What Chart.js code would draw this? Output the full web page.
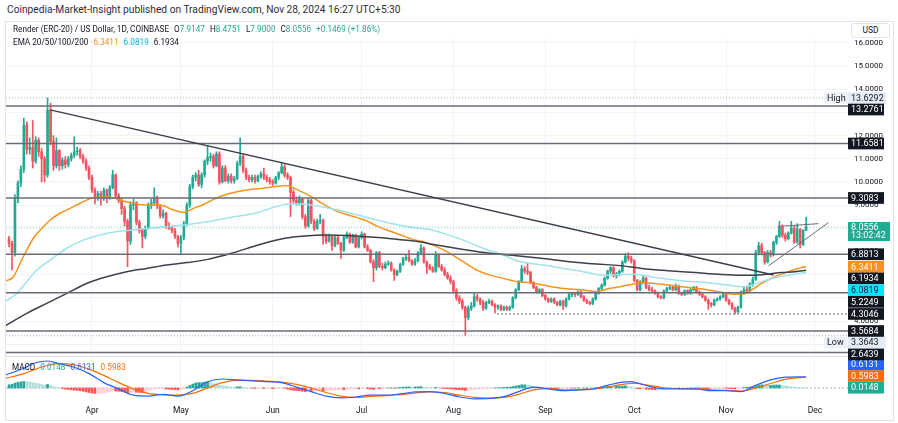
<!DOCTYPE html>
<html>
<head>
<meta charset="utf-8">
<script src="https://cdn.jsdelivr.net/npm/chart.js@4.4.1/dist/chart.umd.min.js"></script>
<style>
  html,body{margin:0;padding:0;background:#fff;}
  body{width:898px;height:423px;position:relative;overflow:hidden;font-family:Roboto,"Liberation Sans",sans-serif;color:#131722;}
  #frame{position:absolute;left:5px;top:21px;width:889px;height:400px;border:1px solid #e0e3eb;box-sizing:border-box;}
  #sep{position:absolute;left:5px;top:356px;width:843px;height:1px;background:#e0e3eb;}
  canvas{position:absolute;left:0;}
  #cm{top:356px;}
  #cp{top:38px;}
  .txt{position:absolute;white-space:nowrap;font-size:8.2px;line-height:10px;color:#131722;}
  #hdr{left:7px;top:4px;font-size:10.2px;line-height:12px;color:#2a2e39;}
  #lg1{left:13px;top:24px;}
  #lg2{left:13px;top:37px;}
  #lgm{left:12px;top:362px;}
  #usd{position:absolute;left:851px;top:23px;width:39px;height:15px;border:1px solid #e0e3eb;border-radius:3px;font-size:8.5px;line-height:13px;text-align:center;box-sizing:border-box;background:#fff;color:#131722;}
  .g{color:#22ab94}.o{color:#f7931a}.c{color:#00bcd4}.b{color:#2962ff}.m{color:#ff6d00}
  .sp{margin-left:5px}
</style>
</head>
<body>
<div id="frame"></div>
<div id="sep"></div>
<canvas id="cm" width="898" height="67"></canvas>
<canvas id="cp" width="898" height="330"></canvas>
<div id="hdr" class="txt">Coinpedia-Market-Insight published on TradingView.com, Nov 28, 2024 16:27 UTC+5:30</div>
<div id="lg1" class="txt"></div>
<div id="lg2" class="txt"></div>
<div id="lgm" class="txt"></div>
<div id="usd">USD</div>
<script>
// ---------- DATA ----------
// day numbers count from 2024-03-01 (= day 0); first candle is 2024-03-04
const FIRST_DAY = 3;
const symbolTitle = 'Render (ERC-20) / US Dollar, 1D, COINBASE';
const monthStartDays = [31, 61, 92, 122, 153, 184, 214, 245, 275];
const monthLabels = ['Apr', 'May', 'Jun', 'Jul', 'Aug', 'Sep', 'Oct', 'Nov', 'Dec'];
const priceTicks = [3, 4, 5, 6, 7, 8, 9, 10, 11, 12, 13, 14, 15, 16];

const opens = [
  7.55,7.35,6.95,9.30,9.95,10.55,12.45,11.40,11.50,10.90,
  11.80,11.30,11.00,10.30,13.10,11.75,10.70,11.35,10.70,10.95,
  10.75,11.00,11.15,11.30,11.35,11.10,10.90,10.60,10.20,9.65,
  9.30,9.50,9.30,9.65,9.30,9.75,10.30,9.40,9.20,8.85,
  8.30,7.45,9.00,9.10,8.25,7.90,7.65,8.00,9.00,9.10,
  9.30,8.95,8.55,8.65,8.10,8.00,7.90,7.65,7.35,7.60,
  8.20,9.00,9.80,10.20,10.30,9.90,10.30,10.90,11.05,11.10,
  10.70,11.20,10.00,10.60,10.05,10.25,10.05,10.15,10.80,11.10,
  10.50,10.20,10.10,10.20,10.05,10.25,10.35,10.20,10.10,10.00,
  9.95,10.20,10.40,10.65,10.30,10.20,9.55,9.20,9.10,9.25,
  8.50,8.10,9.20,8.30,8.00,8.30,8.35,7.65,7.45,7.65,
  7.25,7.60,7.35,7.05,7.60,7.75,7.40,7.70,7.20,7.60,
  7.75,7.20,7.05,6.55,6.30,6.95,6.35,6.30,6.45,6.50,
  6.20,6.00,6.15,6.45,6.70,6.75,6.60,6.45,6.60,6.95,
  7.15,6.55,6.35,6.25,6.15,6.85,6.35,6.20,6.00,5.85,
  5.70,5.30,5.00,4.85,4.60,4.15,4.55,4.65,5.05,4.95,
  4.80,4.55,4.80,4.85,4.70,4.60,4.65,4.50,4.60,4.50,
  4.60,5.00,5.35,5.70,6.25,6.15,6.10,5.65,5.45,5.25,
  5.35,5.10,4.95,4.85,4.95,4.80,4.70,4.85,4.65,4.95,
  5.15,5.20,5.15,5.25,5.05,4.90,4.80,4.75,4.95,5.20,
  5.40,5.55,5.85,6.15,6.30,5.95,6.05,6.15,6.55,6.80,
  6.70,6.60,5.75,5.35,5.70,5.85,5.45,5.35,5.30,5.20,
  5.05,5.00,5.30,5.40,5.45,5.35,5.50,5.20,5.15,5.30,
  5.20,5.35,5.45,5.25,5.15,5.05,4.90,4.75,4.70,4.90,
  4.95,5.05,5.15,4.90,4.75,4.55,4.40,4.60,5.25,5.35,
  5.30,5.60,5.80,6.95,7.25,6.95,6.55,6.95,6.85,7.40,
  7.65,8.05,7.70,7.55,7.80,8.00,7.40,7.95,7.30,7.9147
];
const highs = [
  7.65,7.45,9.45,10.05,10.70,12.75,12.60,11.90,12.65,11.95,
  11.90,11.45,11.10,13.6292,13.40,12.00,11.90,11.40,11.05,11.10,
  11.10,11.25,11.95,11.50,11.45,11.20,11.00,10.70,10.30,9.75,
  9.60,9.60,9.75,9.70,9.85,10.50,10.35,9.50,9.30,8.95,
  8.40,9.15,9.25,9.15,8.35,8.00,8.10,9.10,9.25,9.75,
  9.40,9.00,8.80,8.70,8.25,8.10,8.00,7.70,7.70,8.30,
  9.10,9.90,10.30,10.40,10.50,10.40,10.95,11.55,11.25,11.20,
  11.30,11.30,10.70,10.70,10.35,10.35,10.25,10.90,11.90,11.20,
  10.60,10.30,10.30,10.30,10.30,10.45,10.60,10.30,10.20,10.10,
  10.25,10.45,10.85,10.75,10.40,10.25,9.65,9.35,9.40,9.30,
  8.60,9.30,9.25,8.40,8.40,8.60,8.40,7.75,7.75,7.70,
  7.65,7.70,7.40,7.65,7.85,7.80,7.75,7.75,7.65,7.85,
  7.80,7.30,7.10,6.65,7.00,7.00,6.50,6.55,6.60,6.55,
  6.25,6.20,6.50,6.75,6.85,7.05,6.65,6.70,7.00,7.30,
  7.20,6.60,6.45,6.35,7.00,6.90,6.45,6.30,6.10,5.95,
  5.75,5.40,5.10,4.95,4.65,4.65,4.80,5.20,5.15,5.00,
  4.90,4.85,4.95,4.90,4.75,4.70,4.70,4.65,4.65,4.65,
  5.05,5.40,5.75,6.40,6.35,6.50,6.15,5.70,5.50,5.40,
  5.40,5.15,5.00,5.00,5.00,4.85,4.90,4.90,5.00,5.20,
  5.25,5.25,5.30,5.30,5.10,4.95,4.85,5.00,5.25,5.45,
  5.60,5.90,6.20,6.35,6.35,6.10,6.20,6.60,6.90,6.95,
  6.80,6.65,5.80,5.75,5.95,5.90,5.55,5.45,5.35,5.25,
  5.10,5.35,5.45,5.55,5.50,5.60,5.55,5.25,5.35,5.35,
  5.40,5.50,5.50,5.30,5.20,5.10,4.95,4.80,4.95,5.00,
  5.10,5.20,5.20,4.95,4.80,4.60,4.65,5.30,5.45,5.45,
  5.65,5.90,7.05,7.40,7.35,7.00,7.05,7.05,7.45,7.70,
  8.30,8.15,7.80,7.85,8.30,8.10,8.20,8.00,7.95,8.4751
];
const lows = [
  7.20,6.20,6.80,9.10,9.80,10.40,11.20,11.20,10.60,10.80,
  11.10,10.00,10.00,10.20,11.60,10.50,10.60,10.50,10.55,10.60,
  10.65,10.90,11.05,11.15,11.00,10.80,10.50,10.10,9.55,9.05,
  9.20,9.00,9.20,9.10,9.25,9.70,9.30,9.10,8.60,8.10,
  6.35,7.30,8.80,8.15,7.80,7.15,7.55,7.95,8.85,9.00,
  8.85,8.45,8.45,8.00,7.95,7.80,7.55,7.20,6.92,7.50,
  8.10,8.90,9.70,10.05,9.80,9.75,10.20,10.75,10.90,10.60,
  10.65,9.90,9.95,10.00,9.95,9.95,9.95,10.10,10.70,10.40,
  10.10,10.00,10.00,9.95,10.00,10.15,10.10,10.00,9.90,9.85,
  9.90,10.10,10.35,10.20,10.10,8.50,9.10,9.00,9.00,8.40,
  8.00,8.05,8.20,7.90,7.95,8.20,7.30,7.35,7.40,7.05,
  7.20,7.30,6.70,7.00,7.55,7.35,7.35,7.15,7.15,7.55,
  7.15,7.00,6.50,5.70,6.20,6.30,6.20,6.25,6.40,6.15,
  5.75,5.95,6.10,6.40,6.60,6.55,6.40,6.40,6.55,6.90,
  6.50,6.05,6.20,6.10,6.10,6.30,6.15,5.95,5.80,5.60,
  5.20,4.90,4.75,4.50,3.3643,4.05,4.45,4.60,4.85,4.70,
  4.45,4.50,4.75,4.65,4.35,4.50,4.45,4.45,4.45,4.45,
  4.55,4.95,5.30,5.65,6.05,6.00,5.60,5.40,5.20,5.20,
  5.05,4.90,4.80,4.80,4.75,4.65,4.65,4.50,4.60,4.90,
  5.05,5.05,5.10,5.00,4.85,4.75,4.70,4.70,4.90,5.15,
  5.35,5.50,5.80,6.05,5.90,5.85,5.95,6.10,6.50,6.60,
  6.50,5.70,5.30,5.30,5.60,5.40,5.30,5.25,5.15,5.00,
  4.95,4.95,5.25,5.35,5.30,5.30,5.15,5.10,5.10,5.15,
  5.15,5.30,5.20,5.10,5.00,4.85,4.50,4.60,4.65,4.85,
  4.90,5.00,4.85,4.70,4.50,4.3046,4.35,4.55,5.15,5.20,
  5.25,5.50,5.75,6.85,6.85,6.45,6.50,6.75,6.80,7.30,
  7.60,7.60,7.45,7.50,7.75,7.35,7.35,7.15,7.25,7.90
];
const closes = [
  7.35,6.95,9.30,9.95,10.55,12.45,11.40,11.50,10.90,11.80,
  11.30,11.00,10.30,13.10,11.75,10.70,11.35,10.70,10.95,10.75,
  11.00,11.15,11.30,11.35,11.10,10.90,10.60,10.20,9.65,9.30,
  9.50,9.30,9.65,9.30,9.75,10.30,9.40,9.20,8.85,8.30,
  7.45,9.00,9.10,8.25,7.90,7.65,8.00,9.00,9.10,9.30,
  8.95,8.55,8.65,8.10,8.00,7.90,7.65,7.35,7.60,8.20,
  9.00,9.80,10.20,10.30,9.90,10.30,10.90,11.05,11.10,10.70,
  11.20,10.00,10.60,10.05,10.25,10.05,10.15,10.80,11.10,10.50,
  10.20,10.10,10.20,10.05,10.25,10.35,10.20,10.10,10.00,9.95,
  10.20,10.40,10.65,10.30,10.20,9.55,9.20,9.10,9.25,8.50,
  8.10,9.20,8.30,8.00,8.30,8.35,7.65,7.45,7.65,7.25,
  7.60,7.35,7.05,7.60,7.75,7.40,7.70,7.20,7.60,7.75,
  7.20,7.05,6.55,6.30,6.95,6.35,6.30,6.45,6.50,6.20,
  6.00,6.15,6.45,6.70,6.75,6.60,6.45,6.60,6.95,7.15,
  6.55,6.35,6.25,6.15,6.85,6.35,6.20,6.00,5.85,5.70,
  5.30,5.00,4.85,4.60,4.15,4.55,4.65,5.05,4.95,4.80,
  4.55,4.80,4.85,4.70,4.60,4.65,4.50,4.60,4.50,4.60,
  5.00,5.35,5.70,6.25,6.15,6.10,5.65,5.45,5.25,5.35,
  5.10,4.95,4.85,4.95,4.80,4.70,4.85,4.65,4.95,5.15,
  5.20,5.15,5.25,5.05,4.90,4.80,4.75,4.95,5.20,5.40,
  5.55,5.85,6.15,6.30,5.95,6.05,6.15,6.55,6.80,6.70,
  6.60,5.75,5.35,5.70,5.85,5.45,5.35,5.30,5.20,5.05,
  5.00,5.30,5.40,5.45,5.35,5.50,5.20,5.15,5.30,5.20,
  5.35,5.45,5.25,5.15,5.05,4.90,4.75,4.70,4.90,4.95,
  5.05,5.15,4.90,4.75,4.55,4.40,4.60,5.25,5.35,5.30,
  5.60,5.80,6.95,7.25,6.95,6.55,6.95,6.85,7.40,7.65,
  8.05,7.70,7.55,7.80,8.00,7.40,7.95,7.30,7.9087,8.0556
];

// horizontal levels and drawings
const levelPrices = [13.2761, 11.6581, 9.3083, 6.8813, 5.2249, 3.5684, 2.6439];
const highPrice = 13.6292;
const lowPrice = 3.3643;
const supportPrice = 4.3046;
const supportFromDay = 167.7;
const countdownText = '13:02:42';
const trendDays = [16.9, 261.0];
const trendPrices = [13.11, 5.99];
const wedgeUpperDays = [262.5, 276.2];
const wedgeUpperPrices = [8.08, 8.20];
const wedgeLowerDays = [259.3, 279.5];
const wedgeLowerPrices = [6.38, 8.24];

// EMA lines
const emaOrangeDays = [1.5,4.5,6.7,9,11.2,14.6,16.9,20.2,23.6,27,30.4,33.7,37.1,40.5,45,49.5,54,58.5,61.9,65.2,69,72,76,80,85,89,93,96.5,100,105,109.6,114,118.6,123,127.6,132,136.6,140,142.8,147.3,151.8,156.3,160.8,165.3,169.8,174.3,178.8,183.3,187.8,192.3,196.8,201.3,205.8,209.2,212,216.5,221,225.5,230,234.5,239,243.5,248,251.4,253.6,257,261.5,266,270.5,272];
const emaOrangeValues = [5.72,5.91,6.49,7.06,7.57,8.07,8.36,8.65,8.86,9.08,9.28,9.34,9.34,9.22,9.08,9.00,9.00,8.79,8.68,8.86,9.05,9.25,9.45,9.58,9.68,9.73,9.80,9.85,9.68,9.37,9.00,8.72,8.53,8.36,8.07,7.86,7.64,7.50,7.42,7.21,6.92,6.56,6.20,5.98,5.84,5.70,5.65,5.55,5.45,5.38,5.34,5.27,5.41,5.48,5.55,5.65,5.62,5.55,5.48,5.41,5.34,5.24,5.16,5.19,5.34,5.62,5.91,6.13,6.31,6.3411];
const emaCyanDays = [1.5,5.6,9,12.4,16.9,22.5,28.1,33.7,39.4,45,50.6,56.2,61.9,67.5,72,79,86,91,95,98,102,105,114,123,132,140,145,149.6,156.3,163,169.8,174.3,178.8,183.3,190,196.8,201.3,205.8,209.2,214.2,221,230,239,245.7,250.2,252.5,257,261.5,266,270.5,272];
const emaCyanValues = [4.82,5.19,5.70,6.20,6.63,7.14,7.49,7.71,7.86,7.93,8.00,8.07,8.14,8.24,8.33,8.50,8.65,8.85,9.00,9.06,9.05,9.00,8.79,8.50,8.21,8.02,7.95,7.78,7.49,7.14,6.85,6.60,6.49,6.42,6.27,6.13,6.01,5.98,6.01,6.02,5.88,5.74,5.65,5.55,5.48,5.51,5.70,5.87,5.98,6.07,6.0819];
const emaBlackDays = [1.5,9,15.7,22.5,29.2,36,42.7,49.5,56.2,63,70,78.1,87.1,96.1,102.9,109.6,118.6,127.6,134.4,140,147.3,156.3,165.3,174.3,183.3,192.3,201.3,209.2,216.5,225.5,234.5,243.5,250.2,254.7,259.2,263.7,268.2,272];
const emaBlackValues = [3.78,4.33,4.76,5.19,5.62,5.91,6.13,6.27,6.42,6.52,6.66,6.92,7.28,7.57,7.67,7.71,7.68,7.60,7.52,7.45,7.28,7.09,6.92,6.82,6.70,6.56,6.46,6.39,6.27,6.17,6.09,6.01,5.98,5.98,6.03,6.09,6.13,6.1934];
const emaLastValues = [6.3411, 6.0819, 6.1934];

// MACD
const macdDays = [1.5,8,12,16,20,25,30,35,40,45,50,55,60,65,70,75,80,85,90,95,100,105,110,115,120,125,130,135,140,145,150,155,160,165,170,175,180,185,190,195,200,205,210,213,215,220,225,230,235,240,245,250,255,260,265,270,272];
const macdValues = [0.70,1.10,1.40,1.50,1.35,1.15,0.80,0.30,-0.05,-0.40,-0.45,-0.35,-0.45,-0.15,0.35,0.50,0.45,0.40,0.35,0.30,0.05,-0.20,-0.45,-0.55,-0.50,-0.40,-0.40,-0.33,-0.22,-0.20,-0.30,-0.50,-0.60,-0.58,-0.48,-0.20,0.05,-0.05,-0.15,-0.10,-0.05,0.15,0.33,0.35,0.28,0.05,-0.05,-0.05,-0.05,-0.15,-0.15,-0.20,0.15,0.45,0.60,0.62,0.6131];
const signalValues = [0.52,0.80,1.05,1.25,1.35,1.28,1.05,0.70,0.30,-0.05,-0.30,-0.38,-0.40,-0.30,0.00,0.30,0.42,0.42,0.38,0.33,0.20,0.00,-0.25,-0.45,-0.52,-0.47,-0.42,-0.37,-0.28,-0.22,-0.25,-0.40,-0.52,-0.56,-0.52,-0.35,-0.10,-0.03,-0.10,-0.10,-0.07,0.05,0.20,0.26,0.25,0.12,0.00,-0.04,-0.05,-0.10,-0.13,-0.17,0.00,0.25,0.48,0.58,0.5983];
const histValues = [
  0.18,0.20,0.28,0.32,0.34,0.36,0.35,0.33,0.30,0.27,
  0.24,0.20,0.16,0.20,0.15,0.08,0.04,0.00,-0.03,-0.06,
  -0.08,-0.10,-0.12,-0.13,-0.15,-0.18,-0.22,-0.25,-0.28,-0.30,
  -0.30,-0.29,-0.27,-0.25,-0.20,-0.15,-0.17,-0.18,-0.20,-0.24,
  -0.30,-0.25,-0.22,-0.24,-0.25,-0.26,-0.22,-0.15,-0.10,-0.05,
  -0.04,-0.04,-0.04,-0.06,-0.07,-0.08,-0.09,-0.10,-0.08,-0.04,
  0.05,0.14,0.22,0.28,0.30,0.30,0.33,0.34,0.30,0.25,
  0.22,0.15,0.13,0.10,0.08,0.06,0.05,0.06,0.07,0.04,
  0.02,0.00,-0.01,-0.02,-0.02,-0.02,-0.03,-0.03,-0.03,-0.04,
  -0.03,-0.02,-0.01,-0.02,-0.06,-0.10,-0.13,-0.14,-0.15,-0.18,
  -0.20,-0.16,-0.18,-0.18,-0.16,-0.14,-0.16,-0.15,-0.13,-0.12,
  -0.12,-0.10,-0.09,-0.10,-0.07,-0.06,-0.05,-0.04,-0.05,-0.03,
  -0.02,-0.04,-0.06,-0.08,-0.04,-0.05,-0.04,-0.02,0.00,0.00,
  -0.01,0.01,0.03,0.05,0.06,0.06,0.05,0.06,0.07,0.08,
  0.05,0.03,0.02,0.00,0.03,0.01,-0.01,-0.03,-0.04,-0.05,
  -0.07,-0.09,-0.10,-0.11,-0.14,-0.12,-0.10,-0.07,-0.06,-0.05,
  -0.05,-0.03,-0.02,-0.01,0.00,0.01,0.02,0.03,0.04,0.05,
  0.08,0.11,0.14,0.18,0.18,0.17,0.14,0.10,0.07,0.05,
  0.02,0.00,-0.02,-0.03,-0.04,-0.05,-0.05,-0.05,-0.03,-0.01,
  0.00,0.00,0.01,0.00,-0.01,-0.02,-0.02,-0.01,0.01,0.03,
  0.05,0.07,0.09,0.10,0.08,0.09,0.10,0.11,0.12,0.10,
  0.08,0.02,-0.04,-0.05,-0.05,-0.07,-0.08,-0.09,-0.10,-0.10,
  -0.09,-0.07,-0.05,-0.04,-0.03,-0.02,-0.03,-0.02,-0.01,-0.01,
  0.00,0.00,-0.01,-0.02,-0.03,-0.04,-0.06,-0.06,-0.05,-0.03,
  -0.02,-0.01,-0.02,-0.03,-0.04,-0.05,-0.05,-0.02,0.02,0.04,
  0.06,0.08,0.13,0.17,0.18,0.16,0.15,0.15,0.16,0.17,
  0.17,0.14,0.11,0.09,0.08,0.05,0.04,0.03,0.02,0.0148
];
const macdLastValues = [0.0148, 0.6131, 0.5983];

// ---------- VIEW ----------
const X_MIN = 1.98, X_MAX = 286.14;
const PRICE_MIN = 2.491, PRICE_MAX = 16.21;
const MACD_MIN = -0.778, MACD_MAX = 1.722;
const UP = '#22ab94', DOWN = '#f7525f';
const GRID = '#f0f3fa';
const FONT = 'Roboto, "Liberation Sans", sans-serif';
Chart.defaults.font.family = FONT;
Chart.defaults.color = '#131722';

const f4 = v => v.toFixed(4);
const last = closes.length - 1;
const chg = closes[last] - closes[last - 1];
const pct = chg / closes[last - 1] * 100;

document.getElementById('lg1').innerHTML =
  symbolTitle +
  `<span class="sp">O<span class="g">${f4(opens[last])}</span></span>` +
  `<span class="sp">H<span class="g">${f4(highs[last])}</span></span>` +
  `<span class="sp">L<span class="g">${f4(lows[last])}</span></span>` +
  `<span class="sp">C<span class="g">${f4(closes[last])}</span></span>` +
  `<span class="sp g">${chg >= 0 ? '+' : ''}${f4(chg)} (${pct >= 0 ? '+' : ''}${pct.toFixed(2)}%)</span>`;
document.getElementById('lg2').innerHTML =
  'EMA 20/50/100/200' +
  `<span class="sp o">${f4(emaLastValues[0])}</span>` +
  `<span class="sp c">${f4(emaLastValues[1])}</span>` +
  `<span class="sp">${f4(emaLastValues[2])}</span>`;
document.getElementById('lgm').innerHTML =
  'MACD' +
  `<span class="sp g">${f4(macdLastValues[0])}</span>` +
  `<span class="sp b">${f4(macdLastValues[1])}</span>` +
  `<span class="sp m">${f4(macdLastValues[2])}</span>`;

const candleColors = closes.map((c, i) => c >= opens[i] ? UP : DOWN);
const wickPts = closes.map((c, i) => ({x: FIRST_DAY + i, y: [lows[i], highs[i]]}));
const bodyPts = closes.map((c, i) => ({x: FIRST_DAY + i, y: [opens[i], c]}));

function seg(xs, ys, color, width, dash, order, smooth) {
  return {type: 'line', data: xs.map((x, i) => ({x, y: ys[i]})), borderColor: color, borderWidth: width,
    borderDash: dash, pointRadius: 0, fill: false, tension: 0,
    cubicInterpolationMode: smooth ? 'monotone' : 'default', order};
}
function hline(v, from, to, color, width, dash, order) {
  return seg([from, to], [v, v], color, width, dash, order, false);
}

const monthTicks = s => { s.ticks = monthStartDays.map(v => ({value: v})); };

// ---------- price-scale boxes ----------
function box(ctx, x, top, w, h, bg) { ctx.fillStyle = bg; ctx.fillRect(x, top, w, h); }

const priceBoxPlugin = {
  id: 'priceBoxes',
  afterDraw(chart) {
    const {ctx, chartArea, scales: {y}} = chart;
    const x0 = chartArea.right;
    const items = [
      {v: highPrice, kind: 'hl', tag: 'High'},
      ...levelPrices.map(v => ({v, kind: 'dark'})),
      {v: closes[last], kind: 'last'},
      {v: emaLastValues[0], kind: 'orange'},
      {v: emaLastValues[1], kind: 'cyan'},
      {v: emaLastValues[2], kind: 'dark'},
      {v: supportPrice, kind: 'dark'},
      {v: lowPrice, kind: 'hl', tag: 'Low'}
    ].sort((a, b) => b.v - a.v);
    let prevBottom = -1e9;
    items.forEach(it => {
      const yy = y.getPixelForValue(it.v);
      it.h = it.kind === 'last' ? 19 : 11.7;
      let top = it.kind === 'last' ? yy - 5 : yy - 5.85;
      if (top < prevBottom) top = prevBottom;
      it.top = top;
      prevBottom = top + it.h;
    });
    ctx.save();
    ctx.font = '9px ' + FONT;
    ctx.textBaseline = 'middle';
    ctx.textAlign = 'left';
    items.forEach(it => {
      const txt = f4(it.v);
      if (it.kind === 'last') {
        box(ctx, x0, it.top, 42, it.h, UP);
        ctx.fillStyle = '#fff';
        ctx.fillText(txt, x0 + 3, it.top + 6);
        ctx.fillText(countdownText, x0 + 3, it.top + 14);
        return;
      }
      if (it.kind === 'hl') {
        box(ctx, x0 - 24, it.top, 24, it.h, '#eef2f8');
        box(ctx, x0, it.top, 38, it.h, '#e6ecf5');
        ctx.fillStyle = '#131722';
        ctx.fillText(it.tag, x0 - 21, it.top + it.h / 2 + 0.5);
        ctx.fillText(txt, x0 + 3, it.top + it.h / 2 + 0.5);
        return;
      }
      const bg = it.kind === 'orange' ? '#f7931a' : it.kind === 'cyan' ? '#00e5ff' : '#131722';
      const fg = it.kind === 'cyan' ? '#131722' : '#fff';
      box(ctx, x0, it.top, 36, it.h, bg);
      ctx.fillStyle = fg;
      ctx.fillText(txt, x0 + 3, it.top + it.h / 2 + 0.5);
    });
    ctx.restore();
  }
};

const macdBoxPlugin = {
  id: 'macdBoxes',
  afterDraw(chart) {
    const {ctx, chartArea, scales: {y}} = chart;
    const x0 = chartArea.right;
    const items = [
      {v: macdLastValues[0], bg: UP},
      {v: macdLastValues[1], bg: '#2962ff'},
      {v: macdLastValues[2], bg: '#ff6d00'}
    ].sort((a, b) => a.v - b.v);
    let prevTop = 1e9;
    ctx.save();
    ctx.font = '9px ' + FONT;
    ctx.textBaseline = 'middle';
    items.forEach(it => {
      const h = 11.7;
      let top = y.getPixelForValue(it.v) - h / 2;
      if (top + h > prevTop) top = prevTop - h;
      prevTop = top;
      box(ctx, x0, top, 36, h, it.bg);
      ctx.fillStyle = '#fff';
      ctx.fillText(f4(it.v), x0 + 3, top + h / 2 + 0.5);
    });
    ctx.restore();
  }
};

// ---------- price chart ----------
new Chart(document.getElementById('cp'), {
  type: 'bar',
  data: {
    datasets: [
      seg(trendDays, trendPrices, '#3b3e48', 1.5, [], 0, false),
      seg(wedgeUpperDays, wedgeUpperPrices, '#6a6d78', 1, [], 0, false),
      seg(wedgeLowerDays, wedgeLowerPrices, '#6a6d78', 1, [], 0, false),
      ...levelPrices.map(v => hline(v, X_MIN, X_MAX, '#6a6d78', 1.5, [], 1)),
      hline(highPrice, X_MIN, X_MAX, '#b2b5be', 1, [1, 2], 2),
      hline(lowPrice, X_MIN, X_MAX, '#b2b5be', 1, [1, 2], 2),
      hline(supportPrice, supportFromDay, X_MAX, '#5d606b', 1, [2, 2], 2),
      hline(closes[last], X_MIN, X_MAX, 'rgba(34,171,148,0.55)', 1, [1, 2], 2),
      seg(emaBlackDays, emaBlackValues, '#3d404a', 1.5, [], 3, true),
      seg(emaCyanDays, emaCyanValues, '#9fe3ec', 1.5, [], 3, true),
      seg(emaOrangeDays, emaOrangeValues, '#f7931a', 1.5, [], 3, true),
      {type: 'bar', data: bodyPts, backgroundColor: candleColors, barThickness: 2, minBarLength: 1, grouped: false, borderWidth: 0, order: 5},
      {type: 'bar', data: wickPts, backgroundColor: candleColors, barThickness: 1, grouped: false, borderWidth: 0, order: 6}
    ]
  },
  options: {
    responsive: false, animation: false, events: [],
    layout: {padding: {left: 6, right: 0, top: 0, bottom: 12}},
    plugins: {legend: {display: false}, tooltip: {enabled: false}},
    scales: {
      x: {type: 'linear', min: X_MIN, max: X_MAX, offset: false,
        grid: {color: GRID, drawTicks: false, offset: false}, border: {display: false},
        ticks: {display: false}, afterBuildTicks: monthTicks,
        afterFit: s => { s.height = 0; s.paddingLeft = 0; s.paddingRight = 0; }},
      y: {type: 'linear', position: 'right', min: PRICE_MIN, max: PRICE_MAX,
        grid: {color: GRID, drawTicks: false}, border: {display: false},
        ticks: {padding: 6, font: {size: 8}, color: '#131722', callback: v => f4(v)},
        afterBuildTicks: s => { s.ticks = priceTicks.map(v => ({value: v})); },
        afterFit: s => { s.width = 50; s.paddingTop = 0; s.paddingBottom = 0; }}
    }
  },
  plugins: [priceBoxPlugin]
});

// ---------- MACD chart ----------
const histPts = histValues.map((v, i) => ({x: FIRST_DAY + i, y: v}));
const histColors = histValues.map((v, i) => {
  const p = i > 0 ? histValues[i - 1] : v;
  return v >= 0 ? (v >= p ? '#26a69a' : '#b2dfdb') : (v < p ? '#ff5252' : '#ffcdd2');
});

new Chart(document.getElementById('cm'), {
  type: 'bar',
  data: {
    datasets: [
      seg(macdDays, macdValues, '#2962ff', 1.2, [], 1, true),
      seg(macdDays, signalValues, '#ff6d00', 1.2, [], 2, true),
      hline(0, X_MIN, X_MAX, '#b2b5be', 1, [2, 2], 4),
      {type: 'bar', data: histPts, backgroundColor: histColors, barThickness: 2, grouped: false, borderWidth: 0, order: 3}
    ]
  },
  options: {
    responsive: false, animation: false, events: [],
    layout: {padding: {left: 6, right: 0, top: 1, bottom: 0}},
    plugins: {legend: {display: false}, tooltip: {enabled: false}},
    scales: {
      x: {type: 'linear', min: X_MIN, max: X_MAX, offset: false, position: 'bottom',
        grid: {color: GRID, drawTicks: false, offset: false}, border: {display: false},
        ticks: {padding: 4, font: {size: 8.5}, color: '#131722', maxRotation: 0, autoSkip: false,
          callback: v => monthLabels[monthStartDays.indexOf(v)]},
        afterBuildTicks: monthTicks,
        afterFit: s => { s.height = 21; s.paddingLeft = 0; s.paddingRight = 0; }},
      y: {type: 'linear', position: 'right', min: MACD_MIN, max: MACD_MAX,
        grid: {display: false}, border: {display: false}, ticks: {display: false},
        afterFit: s => { s.width = 50; s.paddingTop = 0; s.paddingBottom = 0; }}
    }
  },
  plugins: [macdBoxPlugin]
});
</script>
</body>
</html>
